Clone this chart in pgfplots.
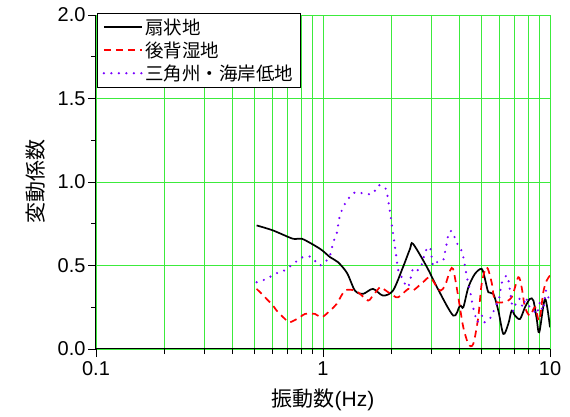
\documentclass[border=0pt]{standalone}
\usepackage{pgfplots}
\pgfplotsset{compat=1.18}
\usepackage{fontspec}
\setmainfont{Liberation Sans}
\newfontfamily\jp{Noto Sans CJK JP}
\definecolor{gridgreen}{RGB}{60,235,60}
\definecolor{myviolet}{RGB}{120,0,255}
\begin{document}
\begin{tikzpicture}
\path (-96pt,-68pt) rectangle (474pt,349pt);
\begin{axis}[
  scale only axis, width=454pt, height=334pt,
  anchor=south west, at={(0pt,0pt)},
  xmode=log, xmin=0.1, xmax=10, ymin=0, ymax=2,
  axis x line*=bottom, axis y line*=left,
  axis line style={line width=1pt},
  tick align=outside, major tick length=8pt, minor tick length=5pt,
  tick style={black, line width=0.8pt},
  xtick={0.1,1,10}, xticklabels={0.1,1,10},
  minor xtick={0.2,0.3,0.4,0.5,0.6,0.7,0.8,0.9,2,3,4,5,6,7,8,9},
  ytick={0,0.5,1,1.5,2}, minor ytick={0.25,0.75,1.25,1.75},
  yticklabel style={/pgf/number format/fixed,/pgf/number format/fixed zerofill,/pgf/number format/precision=1, xshift=1pt},
  xticklabel style={yshift=-1pt},
  /pgf/number format/assume math mode=true,
  ticklabel style={font=\fontsize{20}{24}\selectfont},
  xmajorgrids, xminorgrids, ymajorgrids,
  major grid style={gridgreen, line width=0.8pt},
  minor grid style={gridgreen, line width=0.8pt},
  xlabel={\jp 振動数\rmfamily(Hz)}, ylabel={\jp 変動係数},
  label style={font=\fontsize{21}{25}\selectfont},
  xlabel style={at={(axis description cs:0.5,-0.153)}, anchor=center},
  ylabel style={at={(axis description cs:-0.134,0.5)}, anchor=center},
  legend style={at={(axis cs:0.1015,2.01)}, anchor=north west, draw=black,
    font=\jp\fontsize{18.5}{21}\selectfont, row sep=2pt, inner xsep=5pt, inner ysep=3pt},
  legend cell align=left,
  legend image code/.code={\draw[#1] (0pt,0pt) -- (38pt,0pt);},
]
\addlegendimage{black, line width=1.7pt}
\addlegendentry{扇状地}
\addlegendimage{red, line width=1.7pt, dash pattern=on 7pt off 5pt}
\addlegendentry{後背湿地}
\addlegendimage{myviolet, line width=2.4pt, line cap=round, dash pattern=on 0pt off 7.5pt}
\addlegendentry{三角州・海岸低地}
\addplot[forget plot, black, line width=1.7pt, smooth, tension=0.5] coordinates {
(0.51,0.74) (0.602,0.71) (0.738,0.66) (0.808,0.66) (0.97,0.60) (1.074,0.55) (1.164,0.52) (1.276,0.455) (1.383,0.35) (1.5,0.33) (1.66,0.36) (1.837,0.32) (2.034,0.35) (2.251,0.49) (2.418,0.60) (2.491,0.63) (2.871,0.49) (3.178,0.37) (3.75,0.20) (4.01,0.26) (4.15,0.25) (4.37,0.37) (4.67,0.45) (5.00,0.48) (5.17,0.42) (5.35,0.34) (5.63,0.33) (5.92,0.23) (6.23,0.09) (6.55,0.15) (6.78,0.23) (7.01,0.20) (7.38,0.18) (7.76,0.25) (8.16,0.30) (8.45,0.29) (8.74,0.18) (8.97,0.10) (9.51,0.30) (10,0.13)
};
\addplot[forget plot, red, line width=1.7pt, dash pattern=on 7pt off 5pt, smooth, tension=0.5] coordinates {
(0.51,0.36) (0.537,0.33) (0.602,0.26) (0.625,0.23) (0.692,0.17) (0.716,0.16) (0.792,0.19) (0.833,0.21) (0.922,0.21) (0.987,0.19) (1.074,0.23) (1.149,0.27) (1.25,0.35) (1.383,0.35) (1.455,0.33) (1.579,0.29) (1.639,0.31) (1.782,0.37) (1.844,0.36) (2.04,0.32) (2.147,0.31) (2.376,0.36) (2.491,0.35) (2.758,0.40) (2.96,0.43) (3.178,0.37) (3.3,0.35) (3.45,0.38) (3.63,0.47) (3.74,0.48) (3.88,0.37) (4.01,0.25) (4.15,0.13) (4.37,0.03) (4.59,0.03) (4.83,0.19) (5.00,0.39) (5.26,0.49) (5.53,0.40) (5.72,0.29) (6.23,0.28) (6.78,0.31) (7.25,0.43) (7.50,0.37) (7.76,0.25) (8.16,0.20) (8.59,0.25) (8.97,0.17) (9.34,0.34) (9.67,0.41) (10,0.44)
};
\addplot[forget plot, myviolet, line width=2.4pt, line cap=round, dash pattern=on 0pt off 7.5pt, smooth, tension=0.5] coordinates {
(0.51,0.40) (0.565,0.42) (0.614,0.45) (0.675,0.47) (0.74,0.51) (0.814,0.55) (0.892,0.55) (0.963,0.50) (1.038,0.53) (1.074,0.56) (1.11,0.64) (1.149,0.69) (1.168,0.75) (1.188,0.80) (1.228,0.85) (1.292,0.90) (1.393,0.94) (1.516,0.93) (1.656,0.93) (1.752,0.98) (1.888,0.96) (1.953,0.86) (2.007,0.75) (2.061,0.64) (2.09,0.58) (2.147,0.47) (2.222,0.43) (2.367,0.37) (2.491,0.48) (2.594,0.47) (2.675,0.48) (2.758,0.53) (2.815,0.58) (2.96,0.61) (3.052,0.50) (3.178,0.52) (3.379,0.53) (3.447,0.58) (3.517,0.64) (3.589,0.70) (3.738,0.70) (3.854,0.64) (4.013,0.61) (4.137,0.56) (4.265,0.46) (4.353,0.40) (4.443,0.35) (4.579,0.25) (4.671,0.21) (4.767,0.16) (5.013,0.20) (5.119,0.16) (5.333,0.17) (5.55,0.20) (5.724,0.25) (5.961,0.30) (6.145,0.40) (6.465,0.44) (6.598,0.39) (6.871,0.23) (7.014,0.26) (7.155,0.29) (7.375,0.30) (7.603,0.25) (7.839,0.31) (8.0,0.26) (8.245,0.25) (8.59,0.22) (8.764,0.21) (9.035,0.28) (9.313,0.23) (9.602,0.35) (9.899,0.29)
};
\end{axis}
\end{tikzpicture}
\end{document}
